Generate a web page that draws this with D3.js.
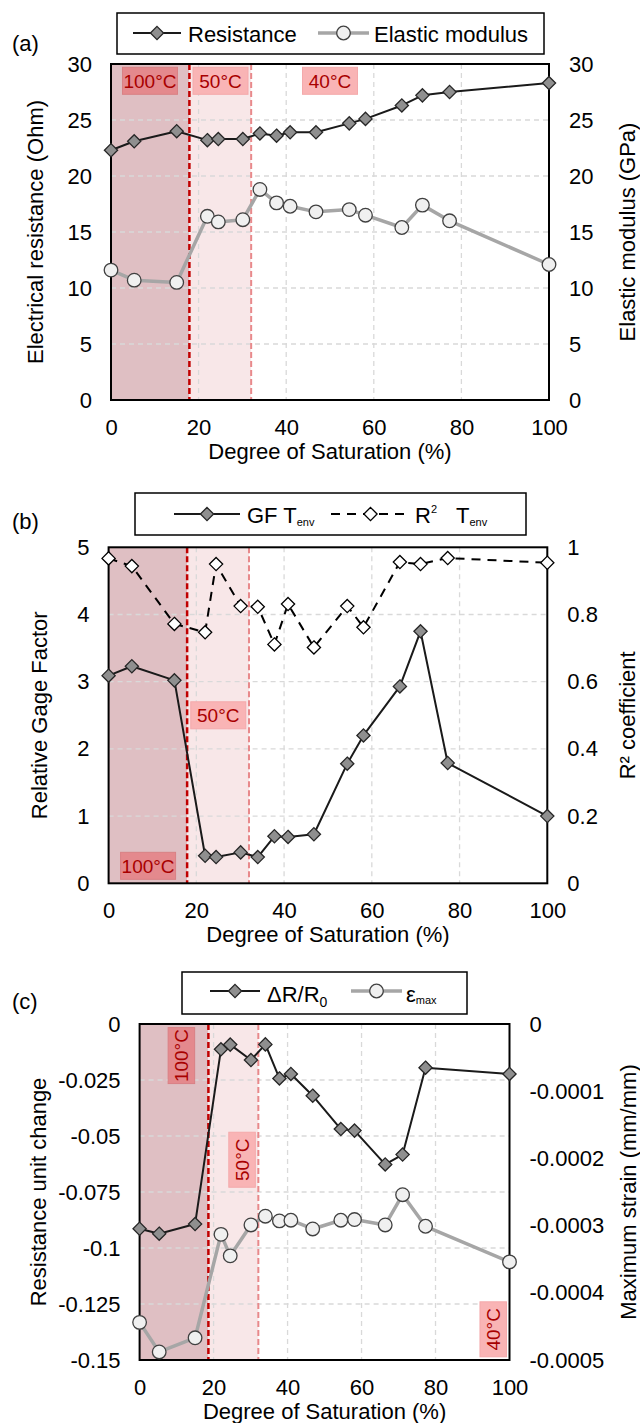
<!DOCTYPE html>
<html>
<head>
<meta charset="utf-8">
<script src="https://cdn.jsdelivr.net/npm/d3@7"></script>
<style>
  body { margin: 0; background: #fff; }
  text { font-family: "Liberation Sans", Arial, sans-serif; fill: #000; }
</style>
</head>
<body>
<svg id="chart" width="640" height="1423"></svg>
<script>
// degree of saturation (%) shared by every series
const saturation = [0, 5.3, 15, 22, 24.5, 30.1, 34, 37.8, 40.9, 46.8, 54.4, 58.1, 66.4, 71.1, 77.3, 100];

// (a)
const resistance = [22.3, 23.1, 24.0, 23.2, 23.3, 23.3, 23.8, 23.6, 23.9, 23.9, 24.7, 25.1, 26.3, 27.2, 27.5, 28.3];
const elasticModulus = [11.6, 10.7, 10.5, 16.4, 15.9, 16.1, 18.8, 17.6, 17.3, 16.8, 17.0, 16.5, 15.4, 17.4, 16.0, 12.1];

// (b)
const gageFactor = [3.09, 3.23, 3.02, 0.41, 0.39, 0.46, 0.39, 0.70, 0.69, 0.73, 1.78, 2.2, 2.93, 3.75, 1.79, 1.0];
const rSquared = [0.967, 0.944, 0.772, 0.747, 0.950, 0.825, 0.823, 0.711, 0.831, 0.702, 0.825, 0.762, 0.956, 0.950, 0.968, 0.954];

// (c)
const resistanceChange = [-0.0914, -0.0936, -0.0893, -0.0113, -0.0092, -0.0161, -0.0091, -0.0243, -0.0223, -0.032, -0.0469, -0.0476, -0.0627, -0.0583, -0.0195, -0.0223];
const maxStrain = [-0.000444, -0.000488, -0.000467, -0.000313, -0.000345, -0.000299, -0.000286, -0.000293, -0.000292, -0.000305, -0.000292, -0.000291, -0.000299, -0.000254, -0.000301, -0.000354];

// ticks
const xTicks = [0, 20, 40, 60, 80, 100];
const ticksA = [0, 5, 10, 15, 20, 25, 30];
const ticksBLeft = [0, 1, 2, 3, 4, 5];
const ticksBRight = [0, 0.2, 0.4, 0.6, 0.8, 1];
const ticksCLeft = [0, -0.025, -0.05, -0.075, -0.1, -0.125, -0.15];
const ticksCRight = [0, -0.0001, -0.0002, -0.0003, -0.0004, -0.0005];

const svg = d3.select("#chart");
const fmt = d => d === 0 ? "0" : String(+d.toFixed(4));

function diamond(r) {
  return `M0,${-r}L${r},0L0,${r}L${-r},0Z`;
}

function drawPanel(p) {
  const g = svg.append("g");
  const x = d3.scaleLinear().domain([0, 100]).range([p.left, p.right]);
  const yL = d3.scaleLinear().domain(d3.extent(p.leftTicks)).range([p.bottom, p.top]);
  const yR = d3.scaleLinear().domain(d3.extent(p.rightTicks)).range([p.bottom, p.top]);
  const h = p.bottom - p.top;

  // oven temperature zones
  g.append("rect")
    .attr("x", x(0)).attr("y", p.top)
    .attr("width", x(p.zones[0]) - x(0)).attr("height", h)
    .attr("fill", "#dfbfc3");
  g.append("rect")
    .attr("x", x(p.zones[0])).attr("y", p.top)
    .attr("width", x(p.zones[1]) - x(p.zones[0])).attr("height", h)
    .attr("fill", "#f8e7e8");

  // grid
  g.selectAll("line.vgrid").data(xTicks.slice(1, -1)).join("line")
    .attr("class", "vgrid")
    .attr("x1", d => x(d)).attr("x2", d => x(d))
    .attr("y1", p.top).attr("y2", p.bottom)
    .attr("stroke", "#d9d9d9").attr("stroke-width", 1.3).attr("stroke-dasharray", "5,4");
  g.selectAll("line.hgrid").data(p.leftTicks.filter(t => t !== yL.domain()[0] && t !== yL.domain()[1])).join("line")
    .attr("class", "hgrid")
    .attr("x1", p.left).attr("x2", p.right)
    .attr("y1", d => yL(d)).attr("y2", d => yL(d))
    .attr("stroke", "#d9d9d9").attr("stroke-width", 1.3).attr("stroke-dasharray", "5,4");

  // zone boundaries
  g.append("line")
    .attr("x1", x(p.zones[0])).attr("x2", x(p.zones[0]))
    .attr("y1", p.top).attr("y2", p.bottom)
    .attr("stroke", "#c00000").attr("stroke-width", 2.5).attr("stroke-dasharray", "6,3");
  g.append("line")
    .attr("x1", x(p.zones[1])).attr("x2", x(p.zones[1]))
    .attr("y1", p.top).attr("y2", p.bottom)
    .attr("stroke", "#e8898b").attr("stroke-width", 2).attr("stroke-dasharray", "6,3");

  // temperature tags
  p.temps.forEach(t => {
    const tg = g.append("g")
      .attr("transform", `translate(${x(t.x)},${yL(t.y)})${t.rotate ? " rotate(-90)" : ""}`);
    tg.append("rect")
      .attr("x", -t.w / 2).attr("y", -t.h / 2)
      .attr("width", t.w).attr("height", t.h)
      .attr("fill", t.dark ? "#e4898d" : "#f9b4b5")
      .attr("stroke", t.dark ? "#d98084" : "#f4a9ab").attr("stroke-width", 1);
    tg.append("text")
      .attr("text-anchor", "middle").attr("dy", "0.36em")
      .style("font-size", "19px").style("fill", "#a80000")
      .text(t.label);
  });

  // frame
  g.append("rect")
    .attr("x", p.left).attr("y", p.top)
    .attr("width", p.right - p.left).attr("height", h)
    .attr("fill", "none").attr("stroke", "#000").attr("stroke-width", 2);

  // axes
  const axL = g.append("g").attr("transform", `translate(${p.left},0)`)
    .call(d3.axisLeft(yL).tickValues(p.leftTicks).tickFormat(fmt).tickSize(0).tickPadding(19));
  const axR = g.append("g").attr("transform", `translate(${p.right},0)`)
    .call(d3.axisRight(yR).tickValues(p.rightTicks).tickFormat(fmt).tickSize(0).tickPadding(20));
  const axB = g.append("g").attr("transform", `translate(0,${p.bottom})`)
    .call(d3.axisBottom(x).tickValues(xTicks).tickFormat(fmt).tickSize(0).tickPadding(19));
  [axL, axR, axB].forEach(a => {
    a.select(".domain").remove();
    a.selectAll("text").style("font-size", "22px").style("font-family", "'Liberation Sans', Arial, sans-serif").attr("fill", "#000");
  });

  // titles
  g.append("text")
    .attr("transform", `translate(${p.leftTitleX},${(p.top + p.bottom) / 2}) rotate(-90)`)
    .attr("text-anchor", "middle").style("font-size", "22px")
    .text(p.leftTitle);
  g.append("text")
    .attr("transform", `translate(${p.rightTitleX},${(p.top + p.bottom) / 2}) rotate(-90)`)
    .attr("text-anchor", "middle").style("font-size", "22px")
    .text(p.rightTitle);
  g.append("text")
    .attr("x", (p.left + p.right) / 2).attr("y", p.bottom + 59)
    .attr("text-anchor", "middle").style("font-size", "22px")
    .text("Degree of Saturation (%)");
  g.append("text")
    .attr("x", 12).attr("y", p.tagY)
    .style("font-size", "22px")
    .text(p.tag);

  // series
  p.series.forEach(s => {
    const y = s.axis === "right" ? yR : yL;
    const line = d3.line().x((d, i) => x(saturation[i])).y(d => y(d));
    g.append("path").datum(s.values)
      .attr("d", line)
      .attr("fill", "none")
      .attr("stroke", s.color).attr("stroke-width", s.width)
      .attr("stroke-dasharray", s.dash || null)
      .attr("stroke-linejoin", "round");
    drawMarkers(g, s, s.values.map((v, i) => [x(saturation[i]), y(v)]));
  });

  // legend
  const L = p.legend;
  g.append("rect")
    .attr("x", L.x).attr("y", L.y).attr("width", L.w).attr("height", L.h)
    .attr("fill", "#fff").attr("stroke", "#000").attr("stroke-width", 1.5);
  L.items.forEach(it => {
    const s = p.series[it.series];
    g.append("line")
      .attr("x1", it.x1).attr("x2", it.x2).attr("y1", L.sy).attr("y2", L.sy)
      .attr("stroke", s.color).attr("stroke-width", s.width)
      .attr("stroke-dasharray", s.dash || null);
    drawMarkers(g, s, [[(it.x1 + it.x2) / 2, L.sy]]);
    const t = g.append("text").attr("x", it.tx).attr("y", L.ty).style("font-size", "22px");
    it.parts.forEach(pt => {
      const ts = t.append("tspan").text(pt.t);
      if (pt.size) ts.style("font-size", pt.size + "px");
      if (pt.dy) ts.attr("dy", pt.dy);
      if (pt.x) ts.attr("x", pt.x);
    });
  });
}

function drawMarkers(g, s, pts) {
  if (s.marker === "circle") {
    g.selectAll(null).data(pts).join("circle")
      .attr("cx", d => d[0]).attr("cy", d => d[1]).attr("r", 6.8)
      .attr("fill", s.fill).attr("stroke", s.stroke).attr("stroke-width", 1.3);
  } else {
    g.selectAll(null).data(pts).join("path")
      .attr("d", diamond(6.6))
      .attr("transform", d => `translate(${d[0]},${d[1]})`)
      .attr("fill", s.fill).attr("stroke", s.stroke).attr("stroke-width", 1.3);
  }
}

// (a)
drawPanel({
  left: 111, right: 549, top: 64, bottom: 400,
  leftTicks: ticksA, rightTicks: ticksA,
  zones: [17.9, 32],
  leftTitle: "Electrical resistance (Ohm)", leftTitleX: 43,
  rightTitle: "Elastic modulus (GPa)", rightTitleX: 635,
  tag: "(a)", tagY: 51,
  temps: [
    { label: "100°C", x: 8.9, y: 28.5, w: 55, h: 27, dark: true },
    { label: "50°C", x: 25, y: 28.5, w: 55, h: 27 },
    { label: "40°C", x: 50, y: 28.5, w: 55, h: 27 }
  ],
  series: [
    { values: elasticModulus, axis: "right", color: "#a6a6a6", width: 3.5, marker: "circle", fill: "#f0f0f0", stroke: "#404040" },
    { values: resistance, axis: "left", color: "#1a1a1a", width: 2, marker: "diamond", fill: "#8f8f8f", stroke: "#262626" }
  ],
  legend: {
    x: 117, y: 13, w: 427, h: 41, sy: 33, ty: 41.5,
    items: [
      { series: 1, x1: 133, x2: 181, tx: 188, parts: [{ t: "Resistance" }] },
      { series: 0, x1: 318, x2: 369, tx: 374, parts: [{ t: "Elastic modulus" }] }
    ]
  }
});

// (b)
drawPanel({
  left: 108.6, right: 547.3, top: 547.3, bottom: 883.3,
  leftTicks: ticksBLeft, rightTicks: ticksBRight,
  zones: [17.9, 32],
  leftTitle: "Relative Gage Factor", leftTitleX: 47,
  rightTitle: "R² coefficient", rightTitleX: 635,
  tag: "(b)", tagY: 529,
  temps: [
    { label: "50°C", x: 25, y: 2.5, w: 55, h: 27 },
    { label: "100°C", x: 9, y: 0.26, w: 55, h: 27, dark: true }
  ],
  series: [
    { values: rSquared, axis: "right", color: "#000", width: 2, dash: "9,7", marker: "diamond", fill: "#fff", stroke: "#000" },
    { values: gageFactor, axis: "left", color: "#1a1a1a", width: 2, marker: "diamond", fill: "#8f8f8f", stroke: "#262626" }
  ],
  legend: {
    x: 135, y: 493, w: 391, h: 42, sy: 514, ty: 523,
    items: [
      { series: 1, x1: 174, x2: 240, tx: 247, parts: [{ t: "GF T" }, { t: "env", size: 11, dy: 3 }] },
      { series: 0, x1: 331, x2: 410, tx: 415, parts: [{ t: "R" }, { t: "2", size: 11, dy: -10 }, { t: "T", x: 456, dy: 10 }, { t: "env", size: 11, dy: 3 }] }
    ]
  }
});

// (c)
drawPanel({
  left: 139.6, right: 509.5, top: 1024, bottom: 1360,
  leftTicks: ticksCLeft, rightTicks: ticksCRight,
  zones: [18.6, 32.1],
  leftTitle: "Resistance unit change", leftTitleX: 46,
  rightTitle: "Maximum strain (mm/mm)", rightTitleX: 636,
  tag: "(c)", tagY: 1009,
  temps: [
    { label: "100°C", x: 11.3, y: -0.0141, w: 56, h: 26.5, dark: true, rotate: true },
    { label: "50°C", x: 27.7, y: -0.0606, w: 55, h: 26.5, rotate: true },
    { label: "40°C", x: 95.6, y: -0.1363, w: 55, h: 26.5, rotate: true }
  ],
  series: [
    { values: maxStrain, axis: "right", color: "#a6a6a6", width: 3.5, marker: "circle", fill: "#f0f0f0", stroke: "#404040" },
    { values: resistanceChange, axis: "left", color: "#1a1a1a", width: 2, marker: "diamond", fill: "#8f8f8f", stroke: "#262626" }
  ],
  legend: {
    x: 182, y: 972, w: 285, h: 42, sy: 991, ty: 1002,
    items: [
      { series: 1, x1: 210, x2: 260, tx: 267, parts: [{ t: "ΔR/R" }, { t: "0", size: 14, dy: 5 }] },
      { series: 0, x1: 351, x2: 402, tx: 406, parts: [{ t: "ε" }, { t: "max", size: 11, dy: 2 }] }
    ]
  }
});
</script>
</body>
</html>
